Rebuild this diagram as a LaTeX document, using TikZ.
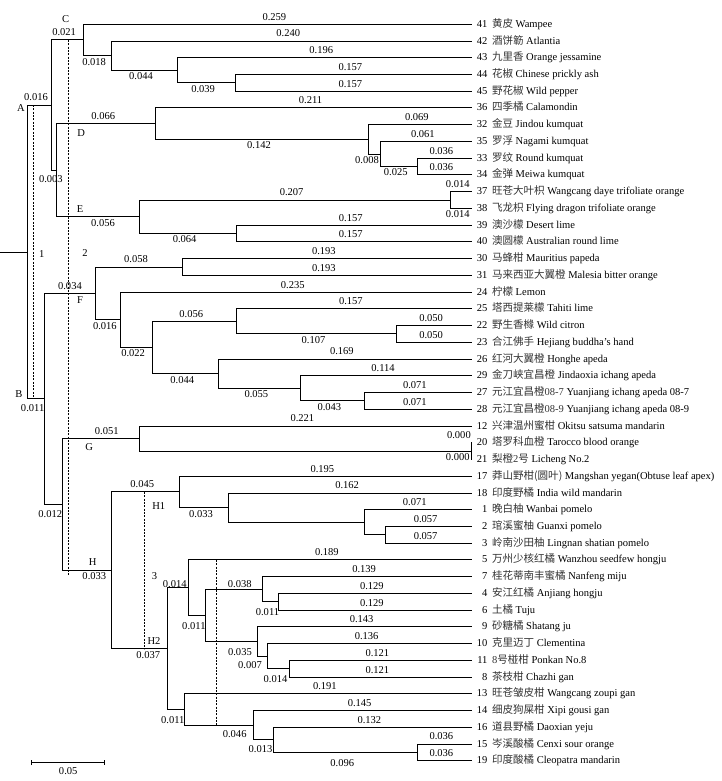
\documentclass[tikz,border=0pt]{standalone}
\usepackage{fontspec}
\setmainfont{Liberation Serif}
\newfontfamily\zh{Noto Sans CJK SC}
\usetikzlibrary{arrows.meta}

\begin{document}
\begin{tikzpicture}[x=0.75pt,y=-0.75pt,line width=0.75pt,
    font=\fontsize{7.9}{9.5}\selectfont,
    every edge/.style={draw,to path={|- (\tikztotarget) \tikztonodes}},
    lab/.style={anchor=base,inner sep=0pt,pos=.75,xshift=-2.25pt},
    up/.style={lab,yshift=3.1pt},
    dn/.style={lab,yshift=-7pt},
    clade/.style={inner sep=0pt},
    cut/.style={line width=0.6pt,dash pattern=on 1.5pt off 1pt},
    tipno/.style={anchor=base east,inner sep=0pt},
    tiptxt/.style={anchor=base west,inner sep=0pt}]
  \useasboundingbox (0,0) rectangle (721,781);

  \foreach \i/\n/\cn/\eng in {0/41/黄皮/Wampee,
      1/42/酒饼簕/Atlantia,
      2/43/九里香/Orange jessamine,
      3/44/花椒/Chinese prickly ash,
      4/45/野花椒/Wild pepper,
      5/36/四季橘/Calamondin,
      6/32/金豆/Jindou kumquat,
      7/35/罗浮/Nagami kumquat,
      8/33/罗纹/Round kumquat,
      9/34/金弹/Meiwa kumquat,
      10/37/旺苍大叶枳/Wangcang daye trifoliate orange,
      11/38/飞龙枳/Flying dragon trifoliate orange,
      12/39/澳沙檬/Desert lime,
      13/40/澳圆檬/Australian round lime,
      14/30/马蜂柑/Mauritius papeda,
      15/31/马来西亚大翼橙/Malesia bitter orange,
      16/24/柠檬/Lemon,
      17/25/塔西提莱檬/Tahiti lime,
      18/22/野生香橼/Wild citron,
      19/23/合江佛手/Hejiang buddha’s hand,
      20/26/红河大翼橙/Honghe apeda,
      21/29/金刀峡宜昌橙/Jindaoxia ichang apeda,
      22/27/元江宜昌橙\textrm{08-7}/Yuanjiang ichang apeda 08-7,
      23/28/元江宜昌橙\textrm{08-9}/Yuanjiang ichang apeda 08-9,
      24/12/兴津温州蜜柑/Okitsu satsuma mandarin,
      25/20/塔罗科血橙/Tarocco blood orange,
      26/21/梨橙\textrm{2}号/Licheng No.2,
      27/17/莽山野柑(圆叶)/Mangshan yegan(Obtuse leaf apex),
      28/18/印度野橘/India wild mandarin,
      29/1/晚白柚/Wanbai pomelo,
      30/2/琯溪蜜柚/Guanxi pomelo,
      31/3/岭南沙田柚/Lingnan shatian pomelo,
      32/5/万州少核红橘/Wanzhou seedfew hongju,
      33/7/桂花蒂南丰蜜橘/Nanfeng miju,
      34/4/安江红橘/Anjiang hongju,
      35/6/土橘/Tuju,
      36/9/砂糖橘/Shatang ju,
      37/10/克里迈丁/Clementina,
      38/11/\textrm{8}号椪柑/Ponkan No.8,
      39/8/茶枝柑/Chazhi gan,
      40/13/旺苍皱皮柑/Wangcang zoupi gan,
      41/14/细皮狗屎柑/Xipi gousi gan,
      42/16/道县野橘/Daoxian yeju,
      43/15/岑溪酸橘/Cenxi sour orange,
      44/19/印度酸橘/Cleopatra mandarin}{
    \coordinate (t\n) at (471.5,{24.3+16.74*\i});
    \node[tipno] (n\n) at (488,{27.3+16.74*\i}) {\n};
    \node[tiptxt] (s\n) at (491.5,{27.3+16.74*\i}) {{\color{black!80}\zh\cn} \eng};
  }

  \coordinate (r0) at (0,252.05);
  \coordinate (root) at (27,252.05);
  \coordinate (nA) at (51,105.13);
  \coordinate (nC) at (83.3,40.0);
  \coordinate (nC2) at (111,55.69);
  \coordinate (nC3) at (177,70.34);
  \coordinate (nC4) at (235.3,82.89);
  \coordinate (nDE) at (56.7,170.26);
  \coordinate (nD) at (155.7,123.70);
  \coordinate (nD2) at (368.3,139.39);
  \coordinate (nD3) at (380.3,154.04);
  \coordinate (nD4) at (417.3,166.59);
  \coordinate (nE) at (139.3,216.81);
  \coordinate (nE2) at (450,200.07);
  \coordinate (nE3) at (236,233.55);
  \coordinate (nB) at (44.3,398.96);
  \coordinate (nF) at (95.7,293.45);
  \coordinate (nF1) at (182.3,267.03);
  \coordinate (nF2) at (120,319.87);
  \coordinate (nF3) at (152.3,347.60);
  \coordinate (nF4) at (236.3,321.44);
  \coordinate (nF5) at (218.3,373.75);
  \coordinate (nF6) at (396.7,333.99);
  \coordinate (nF7) at (300.5,388.40);
  \coordinate (nF8) at (364.3,400.95);
  \coordinate (nGH) at (62.3,504.47);
  \coordinate (nG) at (139.3,438.62);
  \coordinate (nG2) at (471,451.17);
  \coordinate (nH) at (111.3,570.32);
  \coordinate (nH1) at (179.3,491.98);
  \coordinate (nH1b) at (228.7,507.67);
  \coordinate (nH1c) at (364,522.32);
  \coordinate (nH1d) at (385.7,534.87);
  \coordinate (nH2) at (167.3,648.66);
  \coordinate (nH2a) at (188.3,587.71);
  \coordinate (nH2b) at (205.5,615.44);
  \coordinate (nH2c) at (262.7,589.28);
  \coordinate (nH2d) at (257.7,641.59);
  \coordinate (nH2e) at (278.3,601.83);
  \coordinate (nH2f) at (267.7,656.24);
  \coordinate (nH2g) at (289.3,668.79);
  \coordinate (nH2h) at (184.3,709.60);
  \coordinate (nH2i) at (253.7,725.29);
  \coordinate (nH2j) at (273.3,739.94);
  \coordinate (nH2k) at (417.3,752.49);

  \draw (r0) -- (root);
  \path (root) edge node[up] {0.016} (nA)
               edge node[dn,yshift=-2.2pt] {0.011} (nB)
  (nA) edge node[up] {0.021} (nC)
       edge node[dn,yshift=-2.2pt] {0.003} (nDE)
  (nC) edge node[up] {0.259} (t41)
       edge node[dn] {0.018} (nC2)
  (nC2) edge node[up] {0.240} (t42)
        edge node[dn] {0.044} (nC3)
  (nC3) edge node[up] {0.196} (t43)
        edge node[dn] {0.039} (nC4)
  (nC4) edge node[up] {0.157} (t44)
        edge node[up] {0.157} (t45)
  (nDE) edge node[up] {0.066} (nD)
        edge node[dn,xshift=6pt] {0.056} (nE)
  (nD) edge node[up] {0.211} (t36)
       edge node[dn] {0.142} (nD2)
  (nD2) edge node[up] {0.069} (t32)
        edge node[dn,xshift=-3.2pt] {0.008} (nD3)
  (nD3) edge node[up] {0.061} (t35)
        edge node[dn] {0.025} (nD4)
  (nD4) edge node[up] {0.036} (t33)
        edge node[up] {0.036} (t34)
  (nE) edge node[up] {0.207} (nE2)
       edge node[dn] {0.064} (nE3)
  (nE2) edge node[up] {0.014} (t37)
        edge node[dn] {0.014} (t38)
  (nE3) edge node[up] {0.157} (t39)
        edge node[up] {0.157} (t40);

  \path (nB) edge node[up,xshift=2.2pt] {0.034} (nF)
             edge node[dn,yshift=-3pt] {0.012} (nGH)
  (nF) edge node[up] {0.058} (nF1)
       edge node[dn] {0.016} (nF2)
  (nF1) edge node[up] {0.193} (t30)
        edge node[up] {0.193} (t31)
  (nF2) edge node[up] {0.235} (t24)
        edge node[dn] {0.022} (nF3)
  (nF3) edge node[up] {0.056} (nF4)
        edge node[dn] {0.044} (nF5)
  (nF4) edge node[up] {0.157} (t25)
        edge node[dn] {0.107} (nF6)
  (nF6) edge node[up] {0.050} (t22)
        edge node[up] {0.050} (t23)
  (nF5) edge node[up] {0.169} (t26)
        edge node[dn] {0.055} (nF7)
  (nF7) edge node[up] {0.114} (t29)
        edge node[dn] {0.043} (nF8)
  (nF8) edge node[up] {0.071} (t27)
        edge node[up] {0.071} (t28)
  (nGH) edge node[up,xshift=6.7pt] {0.051} (nG)
        edge node[dn,xshift=7.9pt] {0.033} (nH)
  (nG) edge node[up] {0.221} (t12)
       edge (nG2)
  (nG2) edge node[up,xshift=-7pt] {0.000} (t20)
        edge node[lab,xshift=-7.9pt,yshift=-1pt] {0.000} (t21);

  \path (nH) edge node[up] {0.045} (nH1)
             edge node[dn,xshift=9pt] {0.037} (nH2)
  (nH1) edge node[up] {0.195} (t17)
        edge node[dn] {0.033} (nH1b)
  (nH1b) edge node[up] {0.162} (t18)
         edge (nH1c)
  (nH1c) edge node[up] {0.071} (t1)
         edge (nH1d)
  (nH1d) edge node[up] {0.057} (t2)
         edge node[up] {0.057} (t3)
  (nH2) edge node[lab] {0.014} (nH2a)
        edge node[dn,yshift=-3.7pt] {0.011} (nH2h)
  (nH2a) edge node[up] {0.189} (t5)
         edge node[dn,yshift=-3.4pt] {0.011} (nH2b)
  (nH2b) edge node[up,xshift=6.5pt,yshift=-2pt] {0.038} (nH2c)
         edge node[dn,xshift=8.5pt,yshift=-3.7pt] {0.035} (nH2d)
  (nH2c) edge node[up] {0.139} (t7)
         edge node[dn,yshift=-3pt] {0.011} (nH2e)
  (nH2e) edge node[up] {0.129} (t4)
         edge node[up] {0.129} (t6)
  (nH2d) edge node[up] {0.143} (t9)
         edge node[dn,xshift=-7.3pt,yshift=-2.2pt] {0.007} (nH2f)
  (nH2f) edge node[up] {0.136} (t10)
         edge node[dn,yshift=-3.3pt] {0.014} (nH2g)
  (nH2g) edge node[up] {0.121} (t11)
         edge node[up] {0.121} (t8)
  (nH2h) edge node[up] {0.191} (t13)
         edge node[dn,xshift=14pt,yshift=-2pt] {0.046} (nH2i)
  (nH2i) edge node[up] {0.145} (t14)
         edge node[dn,yshift=-2.7pt] {0.013} (nH2j)
  (nH2j) edge node[up] {0.132} (t16)
         edge node[dn,yshift=-3.5pt] {0.096} (nH2k)
  (nH2k) edge node[up] {0.036} (t15)
         edge node[up] {0.036} (t19);

  \node[clade] (labA) at (21,107.7) {A};
  \node[clade] (labB) at (19,394.3) {B};
  \node[clade] (labC) at (65.7,19) {C};
  \node[clade] (labD) at (81.3,133.3) {D};
  \node[clade] (labE) at (80,209) {E};
  \node[clade] (labF) at (80,300) {F};
  \node[clade] (labG) at (89.3,447.3) {G};
  \node[clade] (labH) at (92.7,562.3) {H};
  \node[clade] (labH1) at (158.7,506) {H1};
  \node[clade] (labH2) at (154,641) {H2};
  \node[clade] (grp1) at (41.7,254) {1};
  \node[clade] (grp2) at (85,253) {2};
  \node[clade] (grp3) at (154.5,576) {3};

  \coordinate (k1a) at (33.3,105.13);
  \coordinate (k1b) at (33.3,398.96);
  \coordinate (k2a) at (68.3,40.0);
  \coordinate (k2b) at (68.3,575);
  \coordinate (k3a) at (144.3,491.98);
  \coordinate (k3b) at (144.3,648.66);
  \coordinate (k4a) at (216,559.98);
  \coordinate (k4b) at (216,725.29);
  \draw[cut] (k1a) -- (k1b);
  \draw[cut] (k2a) -- (k2b);
  \draw[cut] (k3a) -- (k3b);
  \draw[cut] (k4a) -- (k4b);

  \coordinate (sb1) at (31,762.7);
  \coordinate (sb2) at (105.3,762.7);
  \draw[{Bar[width=3.5pt]}-{Bar[width=3.5pt]}] (sb1) -- (sb2);
  \node[clade] (sbl) at (68.2,771) {0.05};
\end{tikzpicture}
\end{document}
